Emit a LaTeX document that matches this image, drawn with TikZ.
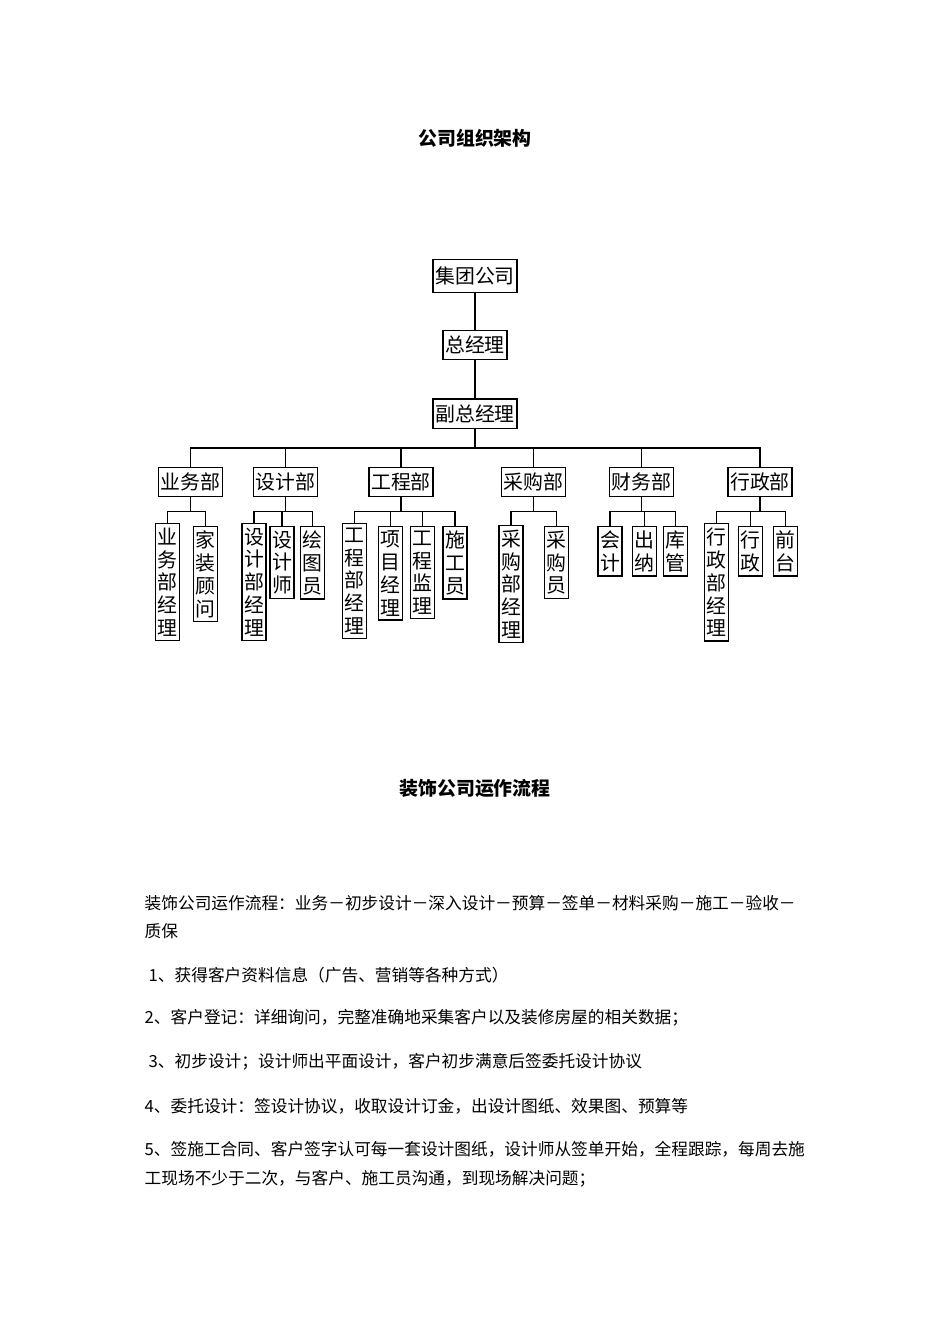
\documentclass[tikz,border=0pt]{standalone}
\usepackage{fontspec}
\setmainfont{Noto Sans CJK SC}
\tikzstyle{unit} = [draw, line width=0.9pt, font=\fontsize{12.5}{14.4}\selectfont, inner xsep=1.3pt, inner ysep=3.5pt]
\tikzstyle{vunit} = [unit, align=center, anchor=north, inner ysep=2.5pt]
\tikzstyle{head} = [font=\fontsize{11.9}{14}\selectfont\bfseries, inner sep=0pt]
\tikzstyle{txt} = [anchor=west, inner sep=0pt, font=\fontsize{10.5}{12}\selectfont]

\begin{document}
\begin{tikzpicture}[x=0.022105cm, y=-0.022105cm, line width=0.9pt]
\useasboundingbox (0,0) rectangle (950,1344);

\node[head] (t1) at (475,138) {公司组织架构};

% top of the chart
\node[unit, minimum height=21pt] (gc) at (475,276) {集团公司};
\node[unit] (gm) at (475,345) {总经理};
\node[unit] (vgm) at (475,413.5) {副总经理};
\draw (gc.south) -- (gm.north);
\draw (gm.south) -- (vgm.north);

% departments
\node[unit] (d1) at (190.5,482) {业务部};
\node[unit] (d2) at (285.5,482) {设计部};
\node[unit] (d3) at (401,482) {工程部};
\node[unit] (d4) at (533.5,482) {采购部};
\node[unit] (d5) at (641.5,482) {财务部};
\node[unit] (d6) at (760,482) {行政部};
\foreach \i in {1,...,6}
\draw (vgm.south) -- ++(0,19) -| (d\i.north);

% staff
\node[vunit] (d1a) at (167.5,523) {业\\务\\部\\经\\理};
\node[vunit] (d1b) at (205.5,526) {家\\装\\顾\\问};
\node[vunit] (d2a) at (254,523) {设\\计\\部\\经\\理};
\node[vunit] (d2b) at (282,526) {设\\计\\师};
\node[vunit] (d2c) at (312.5,526) {绘\\图\\员};
\node[vunit] (d3a) at (354.5,523) {工\\程\\部\\经\\理};
\node[vunit] (d3b) at (390.5,526) {项\\目\\经\\理};
\node[vunit] (d3c) at (422.5,526) {工\\程\\监\\理};
\node[vunit] (d3d) at (455,526) {施\\工\\员};
\node[vunit] (d4a) at (511,525) {采\\购\\部\\经\\理};
\node[vunit] (d4b) at (556.5,526) {采\\购\\员};
\node[vunit] (d5a) at (610,526) {会\\计};
\node[vunit] (d5b) at (644.5,526) {出\\纳};
\node[vunit] (d5c) at (675.5,526) {库\\管};
\node[vunit] (d6a) at (716.5,523) {行\\政\\部\\经\\理};
\node[vunit] (d6b) at (750.5,526) {行\\政};
\node[vunit] (d6c) at (785.5,526) {前\\台};
\foreach \p/\c in {d1/d1a, d1/d1b, d2/d2a, d2/d2b, d2/d2c, d3/d3a, d3/d3b, d3/d3c, d3/d3d,
  d4/d4a, d4/d4b, d5/d5a, d5/d5b, d5/d5c, d6/d6a, d6/d6b, d6/d6c}
\draw (\p.south) -- ++(0,14) -| (\c.north);

\node[head] (t2) at (475,788) {装饰公司运作流程};

% flow text
\node[txt] (l0) at (144,903) {装饰公司运作流程：业务－初步设计－深入设计－预算－签单－材料采购－施工－验收－};
\node[txt] (l0b) at (144,931) {质保};
\node[txt] (l1) at (148,975) {1、获得客户资料信息（广告、营销等各种方式）};
\node[txt] (l2) at (144,1018) {2、客户登记：详细询问，完整准确地采集客户以及装修房屋的相关数据；};
\node[txt] (l3) at (148,1062) {3、初步设计；设计师出平面设计，客户初步满意后签委托设计协议};
\node[txt] (l4) at (144,1106) {4、委托设计：签设计协议，收取设计订金，出设计图纸、效果图、预算等};
\node[txt] (l5) at (144,1149) {5、签施工合同、客户签字认可每一套设计图纸，设计师从签单开始，全程跟踪，每周去施};
\node[txt] (l5b) at (144,1179) {工现场不少于二次，与客户、施工员沟通，到现场解决问题；};
\end{tikzpicture}
\end{document}
